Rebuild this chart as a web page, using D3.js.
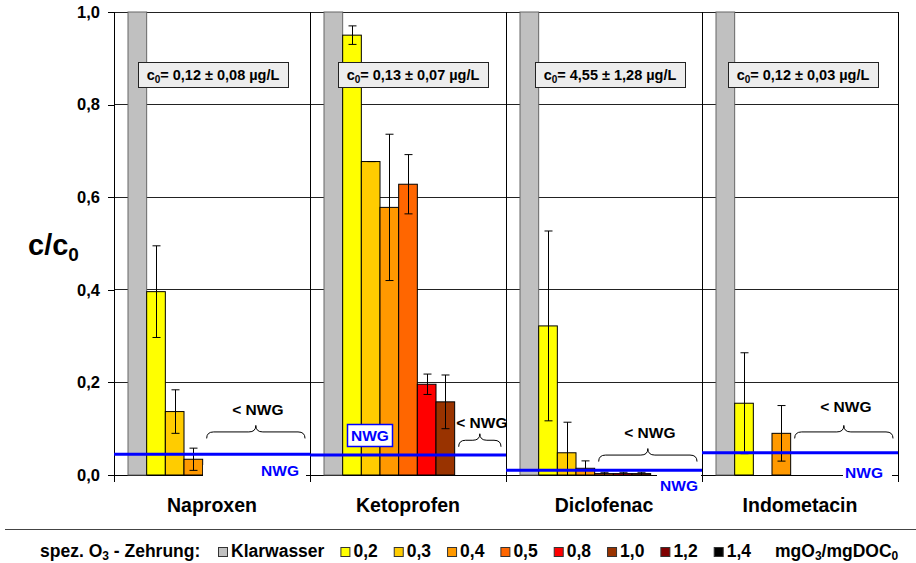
<!DOCTYPE html>
<html>
<head>
<meta charset="utf-8">
<script src="https://cdn.jsdelivr.net/npm/d3@7/dist/d3.min.js"></script>
<style>
  html, body { margin: 0; padding: 0; background: #fff; }
  svg { display: block; font-family: "Liberation Sans", Arial, sans-serif; font-weight: bold; }
</style>
</head>
<body>
<svg id="chart" width="916" height="563"></svg>
<script>
// Substances (panels) and ozone dose series
const substances = ["Naproxen", "Ketoprofen", "Diclofenac", "Indometacin"];
const seriesNames = ["Klarwasser", "0,2", "0,3", "0,4", "0,5", "0,8", "1,0", "1,2", "1,4"];
const seriesColors = ["#C0C0C0", "#FFFF00", "#FFCC00", "#FF9900", "#FF6600", "#FF0000", "#993300", "#800000", "#000000"];

// c/c0 per series, one entry per substance (null = not shown, below NWG)
const valKlarwasser = [1.0, 1.0, 1.0, 1.0];
const val02 = [0.396, 0.950, 0.322, 0.155];
const val03 = [0.137, 0.677, 0.048, null];
const val04 = [0.034, 0.578, 0.0145, 0.090];
const val05 = [null, 0.628, 0.003, null];
const val08 = [null, 0.196, 0.003, null];
const val10 = [null, 0.158, 0.003, null];
const val12 = [null, null, null, null];
const val14 = [null, null, null, null];

// standard deviations (error bars)
const errKlarwasser = [null, null, null, null];
const err02 = [0.099, 0.020, 0.205, 0.109];
const err03 = [0.047, 0.0, 0.066, null];
const err04 = [0.024, 0.158, 0.016, 0.060];
const err05 = [null, 0.064, 0.003, null];
const err08 = [null, 0.022, 0.003, null];
const err10 = [null, 0.058, 0.003, null];
const err12 = [null, null, null, null];
const err14 = [null, null, null, null];

// detection limit (NWG) as c/c0, per substance
const nwgLevels = [0.045, 0.043, 0.010, 0.048];
// initial concentrations
const c0Texts = ["0,12 ± 0,08 µg/L", "0,13 ± 0,07 µg/L", "4,55 ± 1,28 µg/L", "0,12 ± 0,03 µg/L"];
// first series index covered by the "< NWG" brace, brace foot level and text level
const braceStart = [4, 7, 4, 4];
const braceLevel = [0.079, 0.061, 0.029, 0.079];
const braceTextLevel = [0.130, 0.102, 0.080, 0.137];

const yTickValues = [0, 0.2, 0.4, 0.6, 0.8, 1.0];

const values = [valKlarwasser, val02, val03, val04, val05, val08, val10, val12, val14];
const errors = [errKlarwasser, err02, err03, err04, err05, err08, err10, err12, err14];

// ---- layout ----
const plot = { left: 114, right: 898, top: 12, bottom: 475 };
const svg = d3.select("#chart");

const x0 = d3.scaleBand().domain(substances).range([plot.left, plot.right]).paddingInner(0).paddingOuter(0);
const x1 = d3.scaleBand().domain(seriesNames).range([0, x0.bandwidth()]).paddingInner(0).paddingOuter(0.75);
const y = d3.scaleLinear().domain([0, 1]).range([plot.bottom, plot.top]);
const fmt = v => d3.format(".1f")(v).replace(".", ",");

// gridlines
svg.append("g").selectAll("line").data(yTickValues.filter(v => v > 0))
  .join("line")
  .attr("x1", plot.left).attr("x2", plot.right)
  .attr("y1", d => y(d)).attr("y2", d => y(d))
  .attr("stroke", "#222").attr("stroke-width", 1).attr("shape-rendering", "crispEdges");

// y axis
const yAxis = d3.axisLeft(y).tickValues(yTickValues).tickFormat(fmt).tickSize(6).tickPadding(8);
const gy = svg.append("g").attr("transform", `translate(${plot.left},0)`).call(yAxis);
gy.select(".domain").remove();
gy.selectAll(".tick line").attr("stroke", "#000").attr("shape-rendering", "crispEdges");
gy.selectAll(".tick text").attr("font-size", 16.5).attr("font-weight", "bold")
  .attr("font-family", "'Liberation Sans', Arial, sans-serif").attr("fill", "#000");

// panel separators (category axis ticks), extending below baseline
const sepX = substances.map(s => x0(s)).concat([plot.right]);
svg.append("g").selectAll("line").data(sepX).join("line")
  .attr("x1", d => d).attr("x2", d => d)
  .attr("y1", plot.top).attr("y2", plot.bottom + 7)
  .attr("stroke", "#000").attr("stroke-width", 1).attr("shape-rendering", "crispEdges");

// baseline
svg.append("line").attr("x1", plot.left - 6).attr("x2", plot.right)
  .attr("y1", plot.bottom).attr("y2", plot.bottom)
  .attr("stroke", "#000").attr("shape-rendering", "crispEdges");

// bars
const barData = [];
substances.forEach((s, si) => {
  seriesNames.forEach((n, ki) => {
    const v = values[ki][si];
    if (v !== null && v !== undefined) barData.push({ s, si, n, ki, v, e: errors[ki][si] });
  });
});
svg.append("g").selectAll("rect").data(barData).join("rect")
  .attr("x", d => x0(d.s) + x1(d.n))
  .attr("width", x1.bandwidth())
  .attr("y", d => y(d.v))
  .attr("height", d => y(0) - y(d.v))
  .attr("fill", d => seriesColors[d.ki])
  .attr("stroke", d => d.ki === 0 ? "#666" : "#000")
  .attr("stroke-width", 1);

// error bars
const eg = svg.append("g").attr("stroke", "#000").attr("stroke-width", 1);
barData.filter(d => d.e !== null && d.e !== undefined).forEach(d => {
  const cx = Math.round(x0(d.s) + x1(d.n) + x1.bandwidth() / 2) + 0.5;
  const hi = y(d.v + d.e), lo = y(Math.max(0, d.v - d.e));
  eg.append("line").attr("x1", cx).attr("x2", cx).attr("y1", hi).attr("y2", lo);
  eg.append("line").attr("x1", cx - 4).attr("x2", cx + 4).attr("y1", hi).attr("y2", hi);
  if (d.v - d.e > 0) eg.append("line").attr("x1", cx - 4).attr("x2", cx + 4).attr("y1", lo).attr("y2", lo);
});

// NWG label boxes: white patches over the baseline, and a framed tag in Ketoprofen
const blue = "#0000FF";
const tagLayout = [
  { bx0: 89, bx1: -4, by0: -10, by1: 4, tx: -11, ty: 1 },
  null,
  { bx0: -45, bx1: -1, by0: -3, by1: 19, tx: -4, ty: 16 },
  { bx0: 141, bx1: -6, by0: -10, by1: 4, tx: -15, ty: 3 }
];
substances.forEach((s, si) => {
  const L = tagLayout[si];
  const pStart = x0(s), pEnd = x0(s) + x0.bandwidth();
  if (L) {
    const bx0 = L.bx0 > 0 ? pStart + L.bx0 : pEnd + L.bx0;
    svg.append("rect").attr("x", bx0).attr("y", plot.bottom + L.by0)
      .attr("width", pEnd + L.bx1 - bx0).attr("height", L.by1 - L.by0).attr("fill", "#fff");
    svg.append("text").attr("x", pEnd + L.tx).attr("y", plot.bottom + L.ty)
      .attr("text-anchor", "end").attr("font-size", 15.5).attr("fill", blue).text("NWG");
  } else {
    svg.append("rect").attr("x", pStart + 37.5).attr("y", 424.5).attr("width", 45).attr("height", 22)
      .attr("fill", "#fff").attr("stroke", blue).attr("stroke-width", 1.5);
    svg.append("text").attr("x", pStart + 60).attr("y", 441)
      .attr("text-anchor", "middle").attr("font-size", 15.5).attr("fill", blue).text("NWG");
  }
});

// NWG lines
svg.append("g").selectAll("line").data(substances).join("line")
  .attr("x1", d => x0(d)).attr("x2", d => x0(d) + x0.bandwidth())
  .attr("y1", (d, i) => y(nwgLevels[i])).attr("y2", (d, i) => y(nwgLevels[i]))
  .attr("stroke", blue).attr("stroke-width", 3);

// "< NWG" braces
substances.forEach((s, si) => {
  const xa = x0(s) + x1(seriesNames[braceStart[si]]) + 4;
  const xb = x0(s) + x0.bandwidth() - 5;
  const xc = (xa + xb) / 2;
  const yb = y(braceLevel[si]), ym = yb - 6.5, yt = yb - 13, r = 7;
  const p = `M${xa},${yb} Q${xa},${ym} ${xa + r},${ym} L${xc - r},${ym} Q${xc},${ym} ${xc},${yt} ` +
            `Q${xc},${ym} ${xc + r},${ym} L${xb - r},${ym} Q${xb},${ym} ${xb},${yb}`;
  svg.append("path").attr("d", p).attr("fill", "none").attr("stroke", "#000").attr("stroke-width", 1);
  svg.append("text").attr("x", xc + 2).attr("y", y(braceTextLevel[si]))
    .attr("text-anchor", "middle").attr("font-size", 15.5).attr("fill", "#000").text("< NWG");
});

// c0 boxes
const c0Offset = [24, 28, 29, 26];
substances.forEach((s, si) => {
  const bx = x0(s) + c0Offset[si];
  svg.append("rect").attr("x", bx + 0.5).attr("y", 62.5).attr("width", 150).attr("height", 25)
    .attr("fill", "#EDEDED").attr("stroke", "#222").attr("stroke-width", 1);
  const t = svg.append("text").attr("x", bx + 75).attr("y", 80).attr("text-anchor", "middle")
    .attr("font-size", 14.5).attr("fill", "#000");
  t.append("tspan").text("c");
  t.append("tspan").attr("font-size", 10).attr("dy", 3).text("0");
  t.append("tspan").attr("dy", -3).text("= " + c0Texts[si]);
});

// category labels
svg.append("g").selectAll("text").data(substances).join("text")
  .attr("x", d => x0(d) + x0.bandwidth() / 2).attr("y", 512)
  .attr("text-anchor", "middle").attr("font-size", 19.5).attr("fill", "#000").text(d => d);

// y axis title
const yt = svg.append("text").attr("x", 28).attr("y", 255).attr("font-size", 29).attr("fill", "#000");
yt.append("tspan").text("c/c");
yt.append("tspan").attr("font-size", 19).attr("dy", 6).text("0");

// separator line above legend
svg.append("line").attr("x1", 5).attr("x2", 916).attr("y1", 529.5).attr("y2", 529.5)
  .attr("stroke", "#444").attr("stroke-width", 1);

// legend
const lg = svg.append("g").attr("font-size", 17.5).attr("fill", "#000");
const title = lg.append("text").attr("x", 40).attr("y", 557);
title.append("tspan").text("spez. O");
title.append("tspan").attr("font-size", 12).attr("dy", 3).text("3");
title.append("tspan").attr("dy", -3).text(" - Zehrung:");
let lx = 218;
seriesNames.forEach((n, i) => {
  lg.append("rect").attr("x", lx + 0.5).attr("y", 547.5).attr("width", 9).attr("height", 9)
    .attr("fill", seriesColors[i]).attr("stroke", "#333").attr("stroke-width", 1);
  const t = lg.append("text").attr("x", lx + 13).attr("y", 557).text(n);
  lx = lx + 13 + t.node().getComputedTextLength() + 16;
});
const unit = lg.append("text").attr("x", 775).attr("y", 557);
unit.append("tspan").text("mgO");
unit.append("tspan").attr("font-size", 12).attr("dy", 3).text("3");
unit.append("tspan").attr("dy", -3).text("/mgDOC");
unit.append("tspan").attr("font-size", 12).attr("dy", 3).text("0");
</script>
</body>
</html>
